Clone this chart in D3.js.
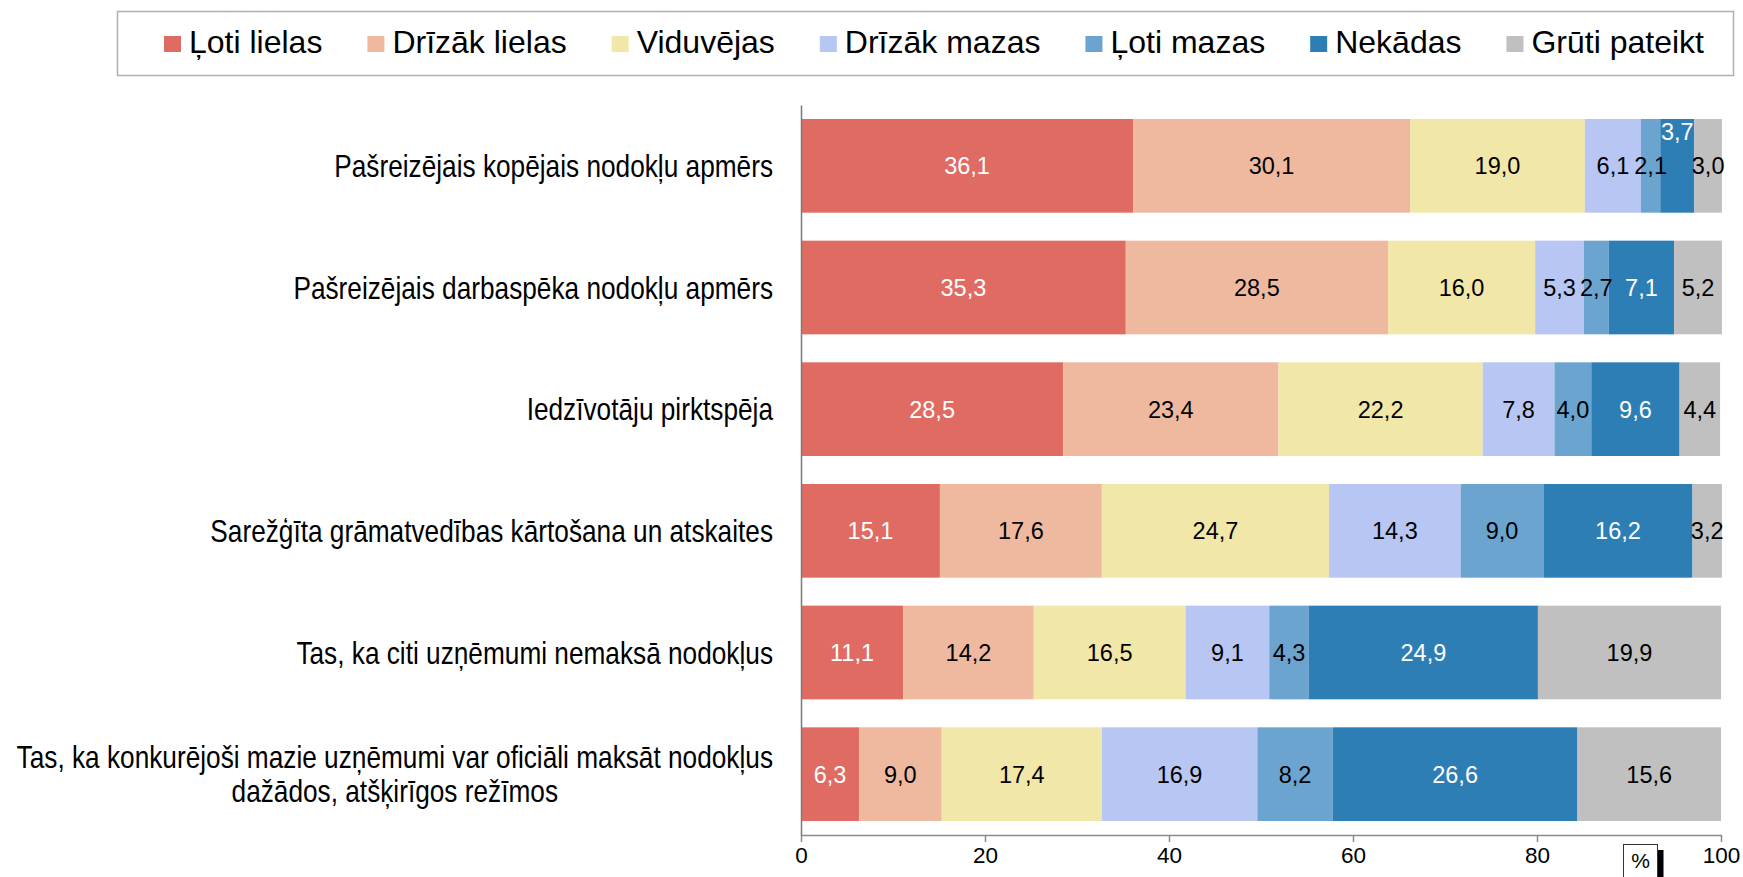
<!DOCTYPE html>
<html>
<head>
<meta charset="utf-8">
<script src="https://cdn.jsdelivr.net/npm/d3@7"></script>
<style>
  body { margin: 0; background: #fff; }
  svg { font-family: "Liberation Sans", Arial, sans-serif; }
</style>
</head>
<body>
<script>
// Categories (top to bottom)
const categories = [
  "Pašreizējais kopējais nodokļu apmērs",
  "Pašreizējais darbaspēka nodokļu apmērs",
  "Iedzīvotāju pirktspēja",
  "Sarežģīta grāmatvedības kārtošana un atskaites",
  "Tas, ka citi uzņēmumi nemaksā nodokļus",
  "Tas, ka konkurējoši mazie uzņēmumi var oficiāli maksāt nodokļus\ndažādos, atšķirīgos režīmos"
];

const seriesNames = ["Ļoti lielas", "Drīzāk lielas", "Viduvējas", "Drīzāk mazas", "Ļoti mazas", "Nekādas", "Grūti pateikt"];
const seriesColors = ["#e06b62", "#efb9a0", "#f1e7a8", "#b7c6f2", "#6aa4cf", "#2e7eb6", "#c0c0c0"];
const whiteText = ["Ļoti lielas", "Nekādas"];

// Series values, one per category
const lotiLielas   = [36.1, 35.3, 28.5, 15.1, 11.1, 6.3];
const drizakLielas = [30.1, 28.5, 23.4, 17.6, 14.2, 9.0];
const viduvejas    = [19.0, 16.0, 22.2, 24.7, 16.5, 17.4];
const drizakMazas  = [6.1, 5.3, 7.8, 14.3, 9.1, 16.9];
const lotiMazas    = [2.1, 2.7, 4.0, 9.0, 4.3, 8.2];
const nekadas      = [3.7, 7.1, 9.6, 16.2, 24.9, 26.6];
const grutiPateikt = [3.0, 5.2, 4.4, 3.2, 19.9, 15.6];

const tickValues = [0, 20, 40, 60, 80, 100];

const seriesValues = [lotiLielas, drizakLielas, viduvejas, drizakMazas, lotiMazas, nekadas, grutiPateikt];

// build table for d3.stack
const rows = categories.map((c, i) => {
  const r = {idx: i};
  seriesNames.forEach((s, j) => r[s] = seriesValues[j][i]);
  return r;
});

const width = 1743, height = 877;

const svg = d3.select("body").append("svg")
    .attr("width", width)
    .attr("height", height);

const x = d3.scaleLinear().domain([0, 100]).range([801, 1721]);
const y = d3.scaleBand()
    .domain(d3.range(categories.length))
    .range([105, 835])
    .paddingInner(0.23)
    .paddingOuter(0.115);

const color = d3.scaleOrdinal().domain(seriesNames).range(seriesColors);

const stacked = d3.stack().keys(seriesNames)(rows);

// Bars
const layers = svg.append("g").selectAll("g")
  .data(stacked)
  .join("g")
    .attr("fill", d => color(d.key));

layers.selectAll("rect")
  .data(d => d)
  .join("rect")
    .attr("x", d => x(d[0]))
    .attr("y", d => y(d.data.idx))
    .attr("width", d => x(d[1]) - x(d[0]))
    .attr("height", y.bandwidth());

// Value labels
const labelG = svg.append("g")
    .style("font-size", "23.5px")
    .attr("text-anchor", "middle");

categories.forEach((c, i) => {
  let prevRight = -Infinity;
  stacked.forEach(layer => {
    const d = layer[i];
    const cx = (x(d[0]) + x(d[1])) / 2;
    const cy = y(i) + y.bandwidth() / 2;
    const t = labelG.append("text")
        .attr("x", cx)
        .attr("y", cy)
        .attr("dy", "0.36em")
        .attr("fill", whiteText.includes(layer.key) ? "#fff" : "#000")
        .text(d3.format(".1f")(d[1] - d[0]).replace(".", ","));
    const w = t.node().getComputedTextLength();
    if (cx - w / 2 < prevRight) {
      // overlapping neighbour: lift the label towards top of the bar
      t.attr("y", cy - 34);
    } else {
      prevRight = cx + w / 2;
    }
  });
});

// Axes
const xAxis = svg.append("g")
    .attr("transform", "translate(0,835)")
    .call(d3.axisBottom(x).tickValues(tickValues).tickSize(7).tickSizeOuter(0).tickPadding(5));
xAxis.select(".domain").attr("stroke", "#8a8a8a").attr("stroke-width", 1.5);
xAxis.selectAll(".tick line").attr("stroke", "#8a8a8a").attr("stroke-width", 1.5);
xAxis.selectAll(".tick text")
    .style("font-size", "22.5px")
    .style("font-family", "'Liberation Sans', Arial, sans-serif")
    .attr("fill", "#000");

const yAxis = svg.append("g")
    .attr("transform", "translate(801,0)")
    .call(d3.axisLeft(y).tickSize(0).tickSizeOuter(0).tickFormat(""));
yAxis.select(".domain").attr("stroke", "#7a7a7a").attr("stroke-width", 1.5);

// Category labels (condensed text, right aligned)
const sx = 0.86;
const catG = svg.append("g").style("font-size", "30.5px");
categories.forEach((c, i) => {
  const lines = c.split("\n");
  const cy = y(i) + y.bandwidth() / 2;
  const g = catG.append("g")
      .attr("transform", `translate(773,${cy}) scale(${sx},1)`);
  const texts = lines.map((l, k) => g.append("text")
      .attr("y", 11 + (k - (lines.length - 1) / 2) * 34)
      .attr("text-anchor", "middle")
      .text(l));
  const maxW = d3.max(texts, t => t.node().getComputedTextLength());
  texts.forEach(t => t.attr("x", -maxW / 2));
});

// Legend
svg.append("rect")
    .attr("x", 117.5).attr("y", 11.5)
    .attr("width", 1616).attr("height", 64)
    .attr("fill", "#fff")
    .attr("stroke", "#b0b0b0")
    .attr("stroke-width", 1.5);

const legend = svg.append("g").style("font-size", "32px");
let lx = 164;
seriesNames.forEach(s => {
  legend.append("rect")
      .attr("x", lx).attr("y", 36)
      .attr("width", 17).attr("height", 16)
      .attr("fill", color(s));
  const t = legend.append("text")
      .attr("x", lx + 25)
      .attr("y", 53)
      .text(s);
  lx += 25 + t.node().getComputedTextLength() + 45;
});

// "%" unit box
svg.append("rect")
    .attr("x", 1658).attr("y", 850)
    .attr("width", 5.5).attr("height", 40)
    .attr("fill", "#000");
svg.append("rect")
    .attr("x", 1623.5).attr("y", 844.5)
    .attr("width", 34).attr("height", 40)
    .attr("fill", "#fff")
    .attr("stroke", "#333")
    .attr("stroke-width", 1);
svg.append("text")
    .attr("x", 1640.5).attr("y", 868)
    .attr("text-anchor", "middle")
    .style("font-size", "21px")
    .text("%");
</script>
</body>
</html>
